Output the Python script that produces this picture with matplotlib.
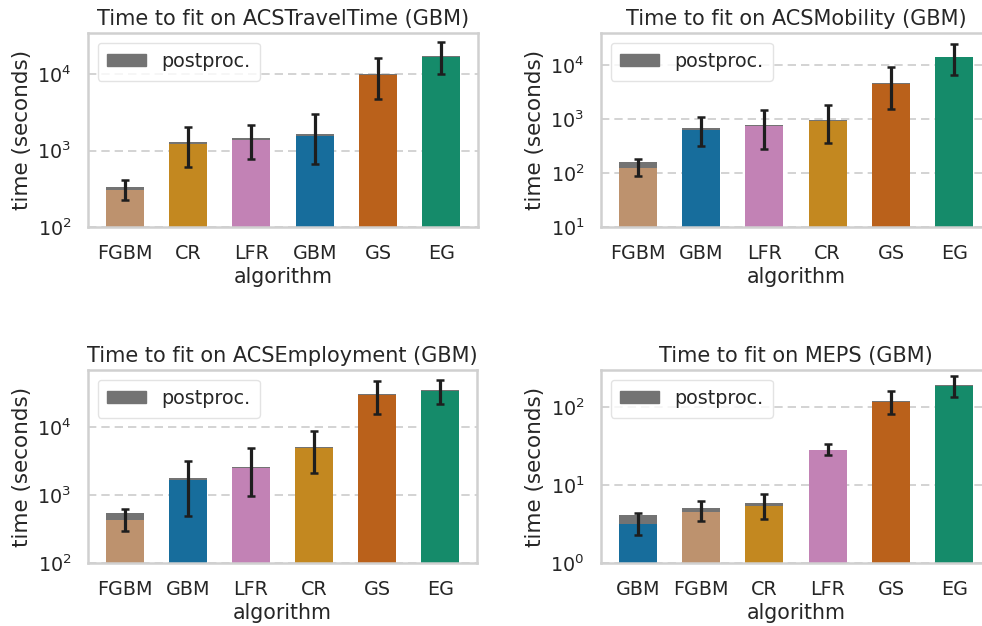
import numpy as np
import matplotlib
matplotlib.use("Agg")
import matplotlib.pyplot as plt
import seaborn as sns
from matplotlib.patches import Patch

# algorithm order per panel, base fit time, total (fit + postproc), error bar ends
travel_algos = ["FGBM", "CR", "LFR", "GBM", "GS", "EG"]
travel_base = [304, 1225, 1383, 1560, 9820, 16940]
travel_total = [330, 1291, 1468, 1645, 10120, 17460]
travel_lo = [224, 615, 771, 668, 4790, 10000]
travel_hi = [411, 2070, 2198, 3040, 16250, 26900]

mob_algos = ["FGBM", "GBM", "LFR", "CR", "GS", "EG"]
mob_base = [126, 632, 750, 944, 4610, 14060]
mob_total = [158, 689, 773, 970, 4740, 14450]
mob_lo = [88, 318, 276, 357, 1556, 6680]
mob_hi = [182, 1089, 1489, 1824, 9290, 24500]

emp_algos = ["FGBM", "GBM", "LFR", "CR", "GS", "EG"]
emp_base = [437, 1647, 2506, 4950, 29700, 34000]
emp_total = [548, 1803, 2565, 5060, 30400, 34800]
emp_lo = [297, 484, 977, 2090, 15560, 21900]
emp_hi = [621, 3150, 4950, 8830, 47300, 49500]

meps_algos = ["GBM", "FGBM", "CR", "LFR", "GS", "EG"]
meps_base = [3.21, 4.58, 5.37, 27.9, 117, 186]
meps_total = [4.19, 5.11, 5.92, 28.5, 119.5, 190]
meps_lo = [2.32, 3.41, 3.65, 24.3, 81, 136]
meps_hi = [4.40, 6.16, 7.66, 33.4, 162, 251]

sns.set_theme(style="whitegrid")
plt.rcParams["font.family"] = ["DejaVu Sans"]

cb = sns.color_palette("colorblind")
algo_colors = {
    "GBM": cb[0], "CR": cb[1], "EG": cb[2], "GS": cb[3], "LFR": cb[4], "FGBM": cb[5],
}
algo_colors = {k: sns.desaturate(v, 0.75) for k, v in algo_colors.items()}
post_color = "#737373"
text_color = "#262626"

W, H = 982, 626
fig = plt.figure(figsize=(W / 100, H / 100), dpi=100)


def panel(rect, title, algos, base, total, lo, hi, ylim):
    l, t, r, b = rect
    ax = fig.add_axes([l / W, 1 - b / H, (r - l) / W, (b - t) / H])
    x = np.arange(len(algos))
    base = np.array(base, dtype=float)
    total = np.array(total, dtype=float)
    cols = [algo_colors[a] for a in algos]
    ax.bar(x, base, width=0.6, color=cols, linewidth=0, zorder=2)
    ax.bar(x, total - base, bottom=base, width=0.6, color=post_color,
           linewidth=0, zorder=2)
    yerr = [total - np.array(lo), np.array(hi) - total]
    ax.errorbar(x, total, yerr=yerr, fmt="none", ecolor="#1e1e1e",
                elinewidth=2.3, capsize=2.6, capthick=1.8, zorder=3)
    ax.set_yscale("log")
    ax.set_ylim(*ylim)
    ax.set_xticks(x)
    ax.set_xticklabels(algos)
    ax.grid(False)
    ax.yaxis.grid(True, which="major", linestyle=(0, (5, 3)), color="#cccccc",
                  linewidth=1.2, zorder=0)
    ax.minorticks_off()
    ax.tick_params(axis="both", labelsize=13.8, colors=text_color, pad=6)
    for s in ax.spines.values():
        s.set_color("#d0d0d0")
        s.set_linewidth(1.8)
    ax.set_title(title, fontsize=15, color=text_color, pad=6)
    ax.set_xlabel("algorithm", fontsize=14.8, color=text_color, labelpad=3)
    ax.set_ylabel("time (seconds)", fontsize=15.5, color=text_color)
    leg = ax.legend(handles=[Patch(color=post_color, label="postproc.")],
                    loc="upper left", fontsize=13.8, frameon=True,
                    handlelength=2.0, handleheight=0.6, borderpad=0.5)
    leg.get_frame().set_edgecolor("#dddddd")
    for txt in leg.get_texts():
        txt.set_color(text_color)
    return ax


panel((88, 33, 478, 227), "Time to fit on ACSTravelTime (GBM)",
      travel_algos, travel_base, travel_total, travel_lo, travel_hi, (100, 35000))
panel((601, 33, 991, 227), "Time to fit on ACSMobility (GBM)",
      mob_algos, mob_base, mob_total, mob_lo, mob_hi, (10, 40000))
panel((88, 370, 477, 563), "Time to fit on ACSEmployment (GBM)",
      emp_algos, emp_base, emp_total, emp_lo, emp_hi, (100, 69500))
panel((601, 370, 991, 563), "Time to fit on MEPS (GBM)",
      meps_algos, meps_base, meps_total, meps_lo, meps_hi, (1, 300))

fig.savefig("out.png", dpi=100)
